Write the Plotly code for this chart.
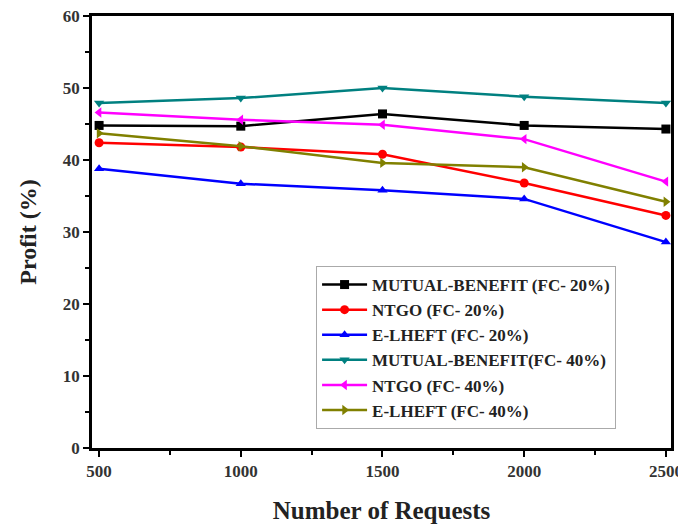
import plotly.graph_objects as go

requests = [500, 1000, 1500, 2000, 2500]
mb20 = [44.8, 44.7, 46.4, 44.8, 44.3]
ntgo20 = [42.4, 41.8, 40.8, 36.8, 32.3]
elheft20 = [38.8, 36.7, 35.8, 34.6, 28.6]
mb40 = [47.9, 48.6, 50.0, 48.8, 47.9]
ntgo40 = [46.6, 45.6, 44.9, 42.9, 37.0]
elheft40 = [43.7, 41.9, 39.6, 39.0, 34.2]

series = [
    ("MUTUAL-BENEFIT (FC- 20%)", mb20, "#000000", "square"),
    ("NTGO (FC- 20%)", ntgo20, "#FF0000", "circle"),
    ("E-LHEFT (FC- 20%)", elheft20, "#0000FF", "triangle-up"),
    ("MUTUAL-BENEFIT(FC- 40%)", mb40, "#008080", "triangle-down"),
    ("NTGO (FC- 40%)", ntgo40, "#FF00FF", "triangle-left"),
    ("E-LHEFT (FC- 40%)", elheft40, "#808000", "triangle-right"),
]

fig = go.Figure()
for name, vals, color, sym in series:
    fig.add_trace(go.Scatter(
        x=requests, y=vals, name=name, mode="lines+markers",
        line=dict(color=color, width=2.5),
        marker=dict(symbol=sym, size=9, color=color),
    ))

font_family = "Liberation Serif"
fig.update_layout(
    width=678, height=516,
    margin=dict(l=84, r=15, t=8, b=76, autoexpand=False),
    paper_bgcolor="white", plot_bgcolor="white",
    font=dict(family=font_family, color="black", size=15, weight="bold"),
    showlegend=True,
    legend=dict(
        x=0.387, y=0.4213, xanchor="left", yanchor="top",
        bgcolor="rgba(255,255,255,1)", bordercolor="#aaaaaa", borderwidth=1,
        font=dict(family=font_family, size=17, color="#222222", weight="bold"),
        tracegroupgap=0, itemwidth=45,
    ),
    xaxis=dict(
        range=[475, 2518], tickvals=requests, automargin=False,
        ticklabeloverflow="allow",
        ticks="outside", ticklen=6, tickwidth=2, tickcolor="black",
        minor=dict(tickvals=[750, 1250, 1750, 2250], ticks="outside", ticklen=4, tickwidth=2, tickcolor="black"),
        showline=True, linewidth=2.5, linecolor="black", mirror=True,
        showgrid=False, zeroline=False,
        tickfont=dict(family=font_family, size=17, color="#333333", weight="bold"),
        title=dict(text="Number of Requests", font=dict(family=font_family, size=25, color="#222222", weight="bold"), standoff=23),
    ),
    yaxis=dict(
        range=[0, 60], tickvals=[0, 10, 20, 30, 40, 50, 60], automargin=False,
        ticklabeloverflow="allow",
        ticks="outside", ticklen=6, tickwidth=2, tickcolor="black",
        minor=dict(tickvals=[5, 15, 25, 35, 45, 55], ticks="outside", ticklen=4, tickwidth=2, tickcolor="black"),
        showline=True, linewidth=2.5, linecolor="black", mirror=True,
        showgrid=False, zeroline=False,
        tickfont=dict(family=font_family, size=17, color="#333333", weight="bold"),
        title=dict(text="Profit (%)", font=dict(family=font_family, size=24, color="#222222", weight="bold"), standoff=20),
    ),
)

fig.write_html("out.html")
